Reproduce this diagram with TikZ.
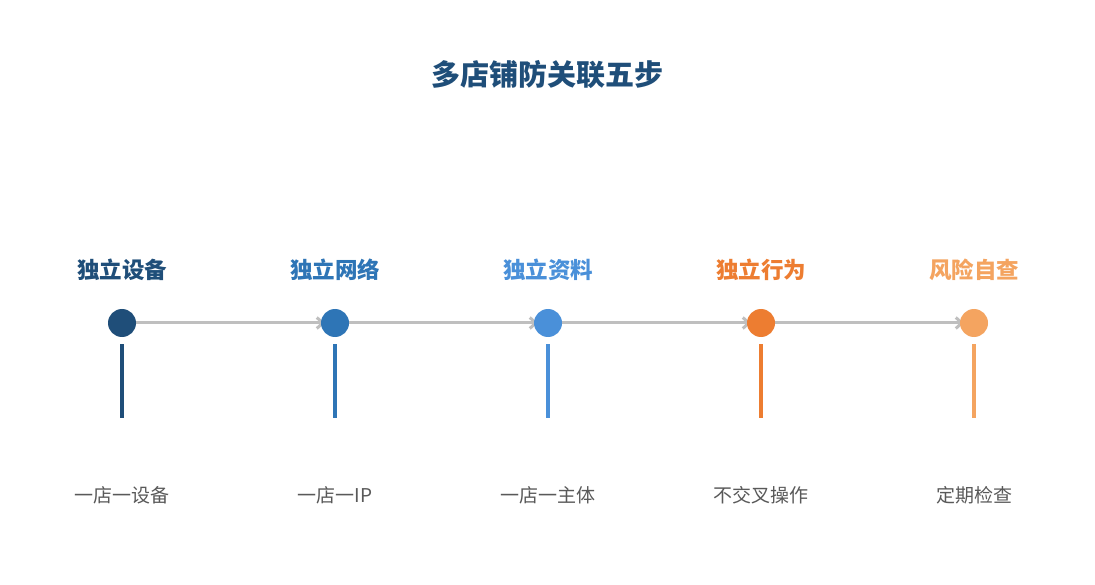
\documentclass[tikz,border=0pt]{standalone}
\usepackage{fontspec}
\setmainfont{Noto Sans CJK SC}
\usetikzlibrary{arrows.meta}
\definecolor{stepA}{HTML}{1F4E79}
\definecolor{stepB}{HTML}{2E75B6}
\definecolor{stepC}{HTML}{4A90D9}
\definecolor{stepD}{HTML}{ED7D31}
\definecolor{stepE}{HTML}{F4A460}
\definecolor{linegray}{HTML}{BFBFBF}
\definecolor{subgray}{HTML}{595959}
\tikzstyle{dot}=[shape=circle,minimum size=28pt,inner sep=0]
\tikzstyle{head}=[font=\bfseries\fontsize{22.5}{22.5}\selectfont]
\tikzstyle{sub}=[text=subgray,font=\fontsize{19}{19}\selectfont]
\tikzstyle{arrow}=[line width=3pt,draw=linegray,-{Straight Barb[length=6pt,width=11pt]}]
\tikzstyle{stem}=[line width=4pt]

\begin{document}
\begin{tikzpicture}[x=1pt,y=-1pt]
\useasboundingbox[fill=white] (0,0) rectangle (1095,585);

\node[stepA,font=\bfseries\fontsize{29}{29}\selectfont] (title) at (547,75) {多店铺防关联五步};

% arrows first, so the dots sit on top
\foreach \i/\x in {1/122,2/335,3/548,4/761}{
	\coordinate (from\i) at (\x+14,323);
	\coordinate (to\i) at (\x+213-10,323);
	\draw[arrow] (from\i)--(to\i);
}

\foreach \i/\x/\c/\h/\s in {1/122/stepA/独立设备/一店一设备,
	2/335/stepB/独立网络/一店一IP,
	3/548/stepC/独立资料/一店一主体,
	4/761/stepD/独立行为/不交叉操作,
	5/974/stepE/风险自查/定期检查}{
	\node[dot,fill=\c] (dot\i) at (\x,323) {};
	\node[head,text=\c] (head\i) at (\x,270) {\h};
	\coordinate (top\i) at (\x,344);
	\coordinate (bot\i) at (\x,418);
	\draw[stem,\c] (top\i)--(bot\i);
	\node[sub] (sub\i) at (\x,495) {\s};
}

\end{tikzpicture}
\end{document}
